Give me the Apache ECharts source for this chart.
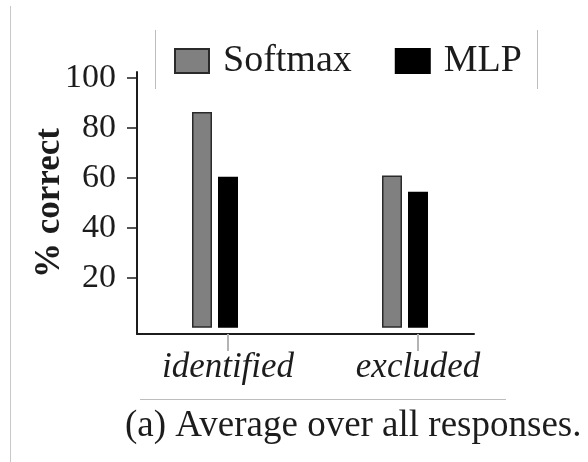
<!DOCTYPE html>
<html>
<head>
<meta charset="utf-8">
<script src="https://cdn.jsdelivr.net/npm/echarts@6/dist/echarts.min.js"></script>
<style>
  html, body { margin: 0; padding: 0; background: #fff; }
  #chart { width: 588px; height: 462px; }
</style>
</head>
<body>
<div id="chart"></div>
<script>
// Data
const categories = ['identified', 'excluded'];
const softmaxValues = [86.5, 61];
const mlpValues = [60.5, 54.5];
const spacerValues = [];            // empty slot that shifts each bar pair left of its tick
const yTickValues = [20, 40, 60, 80, 100];
const caption = '(a) Average over all responses.';

const serif = 'Liberation Serif';
const ink = '#1c1c1c';
const plotTop = 72;
const plotHeight = 262;
const yMin = -2.5;
const yMax = 102.5;

const chart = echarts.init(document.getElementById('chart'), null, { renderer: 'canvas' });

chart.setOption({
  backgroundColor: '#ffffff',
  animation: false,
  textStyle: { fontFamily: serif },
  title: {
    text: caption,
    left: 125,
    top: 408,
    padding: 0,
    textStyle: { fontFamily: serif, fontSize: 37, fontWeight: 'normal', color: ink }
  },
  legend: {
    data: ['Softmax', 'MLP'],
    left: 174,
    top: 42,
    padding: 0,
    icon: 'rect',
    itemWidth: 34,
    itemHeight: 24,
    itemGap: 43,
    textStyle: { fontFamily: serif, fontSize: 38, color: ink, padding: [0, 0, 0, 9] }
  },
  grid: [
    // bars, category ticks and labels
    { left: 133, width: 380, top: plotTop, height: plotHeight },
    // axis frame (left and bottom lines)
    { left: 137, width: 337, top: plotTop, height: plotHeight }
  ],
  xAxis: [
    {
      type: 'category',
      gridIndex: 0,
      data: categories,
      axisLine: { show: false, onZero: false },
      axisTick: { show: true, alignWithLabel: true, length: 17, lineStyle: { color: '#b4b4b4', width: 2 } },
      axisLabel: { fontFamily: serif, fontStyle: 'italic', fontSize: 35, color: ink, margin: 16 },
      splitLine: { show: false }
    },
    {
      type: 'value',
      gridIndex: 1,
      min: 0,
      max: 1,
      axisLine: { show: true, onZero: false, lineStyle: { color: ink, width: 2 } },
      axisTick: { show: false },
      axisLabel: { show: false },
      splitLine: { show: false }
    }
  ],
  yAxis: [
    { type: 'value', gridIndex: 0, min: yMin, max: yMax, show: false },
    {
      type: 'value',
      gridIndex: 1,
      min: yMin,
      max: yMax,
      axisLine: { show: true, onZero: false, lineStyle: { color: ink, width: 2 } },
      axisTick: { show: true, customValues: yTickValues, length: 10, lineStyle: { color: ink, width: 1.5 } },
      axisLabel: { customValues: yTickValues, fontFamily: serif, fontSize: 34, color: ink, margin: 21 },
      splitLine: { show: false },
      name: '% correct',
      nameLocation: 'middle',
      nameGap: 70,
      nameRotate: 90,
      nameMoveOverlap: false,
      nameTextStyle: { fontFamily: serif, fontSize: 35, fontWeight: 'bold', color: ink }
    }
  ],
  graphic: [
    { type: 'line', shape: { x1: 10.5, y1: 6, x2: 10.5, y2: 462 }, style: { stroke: '#c8c8c8', lineWidth: 1 } },
    { type: 'line', shape: { x1: 155.5, y1: 30, x2: 155.5, y2: 89 }, style: { stroke: '#bdbdbd', lineWidth: 1 } },
    { type: 'line', shape: { x1: 537.5, y1: 30, x2: 537.5, y2: 89 }, style: { stroke: '#bdbdbd', lineWidth: 1 } },
    { type: 'line', shape: { x1: 140, y1: 399.5, x2: 506, y2: 399.5 }, style: { stroke: '#bdbdbd', lineWidth: 1 } }
  ],
  series: [
    {
      name: 'Softmax', type: 'bar', xAxisIndex: 0, yAxisIndex: 0,
      data: softmaxValues, barWidth: 20, barGap: '30%',
      itemStyle: { color: '#808080', borderColor: '#2a2a2a', borderWidth: 1.5 }
    },
    {
      name: 'MLP', type: 'bar', xAxisIndex: 0, yAxisIndex: 0,
      data: mlpValues, barWidth: 20, barGap: '30%',
      itemStyle: { color: '#000000', borderColor: '#000000', borderWidth: 1.5 }
    },
    {
      name: 'spacer', type: 'bar', xAxisIndex: 0, yAxisIndex: 0,
      data: spacerValues, barWidth: 20, barGap: '30%'
    }
  ]
});
</script>
</body>
</html>
